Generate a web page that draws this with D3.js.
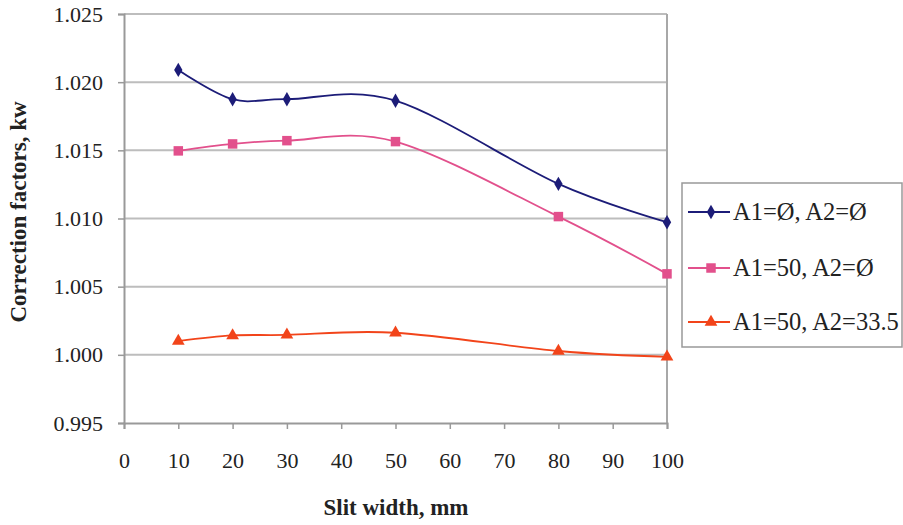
<!DOCTYPE html>
<html><head><meta charset="utf-8">
<script src="https://cdn.jsdelivr.net/npm/d3@7"></script>
<style>body{margin:0;background:#fff}svg{display:block}</style>
</head><body><svg id="c" width="903" height="525"></svg>
<script>
const slitWidth = [10, 20, 30, 50, 80, 100];
const seriesNames = ["A1=Ø, A2=Ø", "A1=50, A2=Ø", "A1=50, A2=33.5"];
const s1 = [1.0209, 1.01875, 1.01875, 1.01864, 1.01254, 1.00973];
const s2 = [1.01496, 1.01547, 1.01571, 1.01564, 1.01014, 1.00594];
const s3 = [1.0010, 1.00142, 1.00146, 1.00162, 1.00028, 0.99985];
const xTicks = [0,10,20,30,40,50,60,70,80,90,100];
const yTicks = [0.995,1.000,1.005,1.010,1.015,1.020,1.025];
const colors = ["#1c1c78", "#e2508c", "#f2441a"];
const markers = [d3.symbolDiamond, d3.symbolSquare, d3.symbolTriangle];
const msize = [60, 90, 70];

const svg = d3.select("#c");
const L = 124, R = 667, T = 14, B = 423;
const x = d3.scaleLinear().domain([0,100]).range([L,R]);
const y = d3.scaleLinear().domain([0.995,1.025]).range([B,T]);
const font = '"Liberation Serif"';
const txt = (sel, size, bold) => sel.style("font-family", font).style("font-size", size + "px")
  .style("font-weight", bold ? "bold" : "normal").attr("fill", "#222");

// gridlines
svg.append("g").selectAll("line").data(yTicks.slice(1)).join("line")
  .attr("x1", L).attr("x2", R).attr("y1", d=>y(d)).attr("y2", d=>y(d))
  .attr("stroke", "#bdbdbd").attr("stroke-width", 2);
// right border
svg.append("line").attr("x1", R).attr("x2", R).attr("y1", T).attr("y2", B)
  .attr("stroke", "#a8a8a8").attr("stroke-width", 2);

// axes
const yAxis = svg.append("g").attr("transform", `translate(${L},0)`)
  .call(d3.axisLeft(y).tickValues(yTicks).tickFormat(d3.format(".3f")).tickSize(6).tickPadding(15));
const xAxis = svg.append("g").attr("transform", `translate(0,${B})`)
  .call(d3.axisBottom(x).tickValues(xTicks).tickFormat(d3.format("d")).tickSize(6).tickPadding(23));
[yAxis, xAxis].forEach(a => {
  a.select(".domain").attr("stroke", "#999").attr("stroke-width", 2);
  a.selectAll(".tick line").attr("stroke", "#999").attr("stroke-width", 1.5);
  txt(a.selectAll("text"), 22, false);
});

// series
const line = d3.line().x((d,i)=>x(slitWidth[i])).y(d=>y(d)).curve(d3.curveCardinal.tension(0));
[s1, s2, s3].forEach((s, k) => {
  svg.append("path").attr("d", line(s)).attr("fill", "none")
    .attr("stroke", colors[k]).attr("stroke-width", 1.8);
  svg.append("g").selectAll("path").data(s).join("path")
    .attr("transform", (d,i)=>`translate(${x(slitWidth[i])},${y(d)})`)
    .attr("d", d3.symbol().type(markers[k]).size(msize[k]))
    .attr("fill", colors[k]);
});

// axis titles
txt(svg.append("text").attr("x", 396).attr("y", 515).attr("text-anchor", "middle"), 23, true)
  .text("Slit width, mm");
txt(svg.append("text").attr("transform", "translate(26,212) rotate(-90)").attr("text-anchor", "middle"), 23, true)
  .text("Correction factors, kw");

// legend
const lg = svg.append("g");
lg.append("rect").attr("x", 682).attr("y", 183).attr("width", 220).attr("height", 164)
  .attr("fill", "#fff").attr("stroke", "#999").attr("stroke-width", 1.5);
const ly = [212, 268, 322];
seriesNames.forEach((n, k) => {
  lg.append("line").attr("x1", 688).attr("x2", 730).attr("y1", ly[k]).attr("y2", ly[k])
    .attr("stroke", colors[k]).attr("stroke-width", 1.8);
  lg.append("path").attr("transform", `translate(711,${ly[k]})`)
    .attr("d", d3.symbol().type(markers[k]).size(msize[k])).attr("fill", colors[k]);
  txt(lg.append("text").attr("x", 733).attr("y", ly[k] + 8), 24.5, false).text(n);
});
</script></body></html>
